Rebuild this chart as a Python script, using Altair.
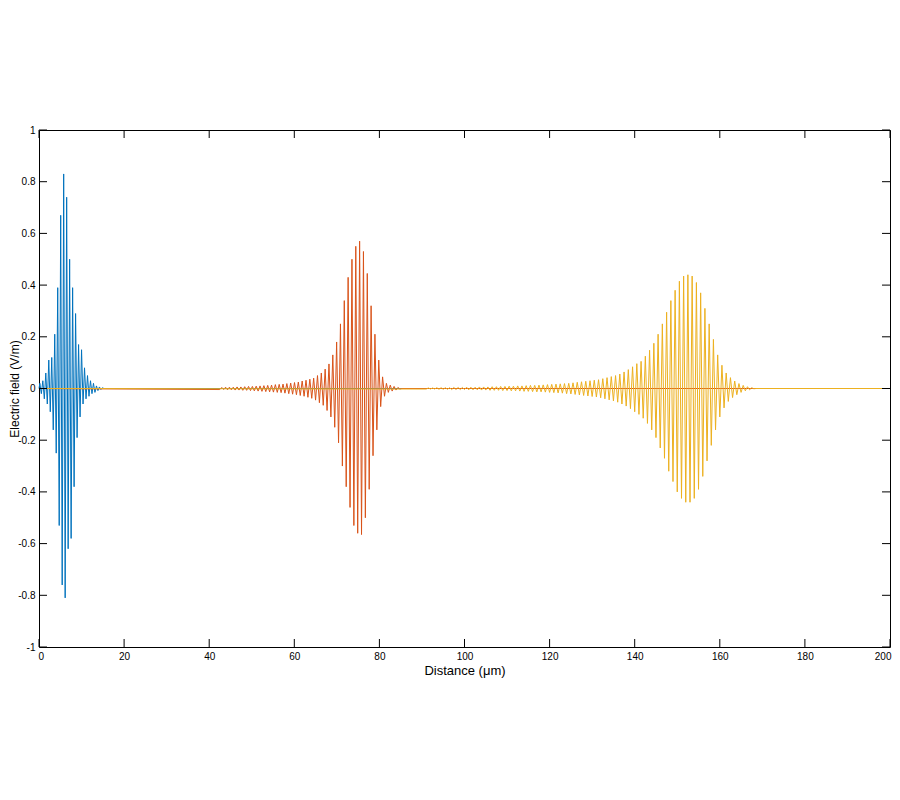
import altair as alt
import pandas as pd

# ---------------- data ----------------
XTICKS = [0, 20, 40, 60, 80, 100, 120, 140, 160, 180, 200]
YTICKS = [-1, -0.8, -0.6, -0.4, -0.2, 0, 0.2, 0.4, 0.6, 0.8, 1]
X_MIN, X_MAX = 0, 200

SERIES = ["pulse1", "pulse2", "pulse3"]
COLORS = ["#0072BD", "#D95319", "#EDB120"]

# pulse 1 (blue): sampled peaks, first sample x and spacing (µm)
BLUE_X0, BLUE_DX = 0.2, 0.35
BLUE_Y = [0.02, -0.02, 0.03, -0.04, 0.06, -0.06, 0.11, -0.09, 0.12, -0.16,
          0.21, -0.25, 0.39, -0.53, 0.67, -0.76, 0.83, -0.81, 0.74, -0.62,
          0.50, -0.58, 0.39, -0.38, 0.29, -0.19, 0.17, -0.11, 0.15, -0.06,
          0.08, -0.04, 0.05, -0.03, 0.03, -0.02, 0.02, -0.015, 0.01, -0.008,
          0.006, -0.004, 0.003]

# pulse 2 (orange)
ORANGE_X0, ORANGE_DX = 42.5, 0.45
ORANGE_Y = [-0.004, 0.004, -0.004, 0.005, -0.005, 0.005, -0.005, 0.005, -0.006, 0.006,
            -0.006, 0.006, -0.007, 0.007, -0.007, 0.008, -0.008, 0.008, -0.009, 0.009,
            -0.010, 0.010, -0.011, 0.011, -0.012, 0.012, -0.013, 0.013, -0.014, 0.015,
            -0.015, 0.016, -0.016, 0.017, -0.018, 0.019, -0.020, 0.021, -0.022, 0.023,
            -0.024, 0.025, -0.027, 0.029, -0.030, 0.032, -0.034, 0.036, -0.038, 0.040,
            -0.045, 0.050, -0.055, 0.060, -0.065, 0.075, -0.085, 0.095, -0.110, 0.130,
            -0.150, 0.180, -0.210, 0.250, -0.300, 0.340, -0.380, 0.430, -0.460, 0.500,
            -0.530, 0.550, -0.560, 0.570, -0.565, 0.530, -0.500, 0.445, -0.390, 0.320,
            -0.260, 0.210, -0.160, 0.110, -0.070, 0.045, -0.030, 0.020, -0.015, 0.013,
            -0.010, 0.008, -0.006, 0.004, -0.002]

# pulse 3 (yellow)
YELLOW_X0, YELLOW_DX = 91.0, 0.5
YELLOW_Y = [-0.002, 0.002, -0.002, 0.002, -0.002, 0.003, -0.003, 0.003, -0.003, 0.003,
            -0.003, 0.003, -0.004, 0.004, -0.004, 0.004, -0.004, 0.004, -0.004, 0.005,
            -0.005, 0.005, -0.005, 0.005, -0.005, 0.006, -0.006, 0.006, -0.006, 0.006,
            -0.007, 0.007, -0.007, 0.007, -0.007, 0.008, -0.008, 0.008, -0.008, 0.009,
            -0.009, 0.009, -0.009, 0.010, -0.010, 0.010, -0.011, 0.011, -0.011, 0.012,
            -0.012, 0.012, -0.013, 0.013, -0.013, 0.014, -0.014, 0.015, -0.015, 0.016,
            -0.016, 0.017, -0.017, 0.018, -0.018, 0.019, -0.020, 0.020, -0.021, 0.022,
            -0.023, 0.024, -0.025, 0.026, -0.027, 0.028, -0.029, 0.030, -0.031, 0.032,
            -0.033, 0.034, -0.036, 0.038, -0.040, 0.042, -0.044, 0.046, -0.048, 0.050,
            -0.053, 0.056, -0.060, 0.064, -0.068, 0.073, -0.078, 0.084, -0.090, 0.096,
            -0.100, 0.105, -0.115, 0.125, -0.135, 0.148, -0.160, 0.175, -0.190, 0.210,
            -0.230, 0.250, -0.270, 0.295, -0.320, 0.340, -0.360, 0.380, -0.400, 0.415,
            -0.425, 0.435, -0.440, 0.440, -0.440, 0.435, -0.425, 0.410, -0.390, 0.370,
            -0.340, 0.310, -0.280, 0.250, -0.220, 0.190, -0.160, 0.130, -0.110, 0.090,
            -0.075, 0.060, -0.050, 0.042, -0.035, 0.029, -0.024, 0.019, -0.015, 0.012,
            -0.009, 0.007, -0.005, 0.003, -0.001]


def build(name, x0, dx, ys):
    xs = [x0 + i * dx for i in range(len(ys))]
    # the trace sits on zero over the rest of the 0-200 window
    xs = [X_MIN] + xs + [xs[-1] + dx, X_MAX]
    vals = [0.0] + list(ys) + [0.0, 0.0]
    return pd.DataFrame({"x": xs, "v": vals, "series": name})


frames = [
    build(SERIES[0], BLUE_X0, BLUE_DX, BLUE_Y),
    build(SERIES[1], ORANGE_X0, ORANGE_DX, ORANGE_Y),
    build(SERIES[2], YELLOW_X0, YELLOW_DX, YELLOW_Y),
]

W, H = 851, 517
TICK = 8
FONT = "Liberation Sans"

xscale = alt.Scale(domain=[X_MIN, X_MAX], nice=False, zero=False)
yscale = alt.Scale(domain=[-1, 1], nice=False, zero=False)

xaxis = alt.Axis(values=XTICKS, ticks=False, domain=False, grid=False,
                 title="Distance (μm)", labelPadding=4, titlePadding=3,
                 labelFlush=True, labelFlushOffset=1, labelOverlap=False,
                 titleFontSize=13, labelExpr="'' + datum.value")
yaxis = alt.Axis(values=YTICKS, ticks=False, domain=False, grid=False,
                 title="Electric field (V/m)", labelPadding=4,
                 labelFlush=False, labelOverlap=False,
                 titleFontSize=12, titleX=-21, titleY=H / 2, titleAngle=270,
                 titleAlign="center", titleBaseline="alphabetic",
                 labelExpr="'' + datum.value")


def X(field):
    return alt.X(field, type="quantitative", scale=xscale, axis=xaxis)


def Y(field):
    return alt.Y(field, type="quantitative", scale=yscale, axis=yaxis)


layers = []
for i, df in enumerate(frames):
    layers.append(
        alt.Chart(df).mark_line(strokeWidth=1, color=COLORS[i], interpolate="linear")
        .encode(x=X("x"), y=Y("v"), order=alt.Order("x:Q"))
    )

ydf = pd.DataFrame({"v": YTICKS})
xdf = pd.DataFrame({"x": XTICKS})
rule = dict(color="black", strokeWidth=1)
layers += [
    alt.Chart(ydf).mark_rule(**rule).encode(y=Y("v"), x=alt.value(0), x2=alt.value(TICK)),
    alt.Chart(ydf).mark_rule(**rule).encode(y=Y("v"), x=alt.value(W - TICK), x2=alt.value(W)),
    alt.Chart(xdf).mark_rule(**rule).encode(x=X("x"), y=alt.value(H), y2=alt.value(H - TICK)),
    alt.Chart(xdf).mark_rule(**rule).encode(x=X("x"), y=alt.value(0), y2=alt.value(TICK)),
]

chart = (
    alt.layer(*layers)
    .properties(width=W, height=H, background="white",
                autosize=alt.AutoSizeParams(type="none"),
                padding={"left": 31, "top": 122, "right": 2, "bottom": 100})
    .configure_view(stroke="black", strokeWidth=1)
    .configure_axis(labelFont=FONT, labelFontSize=10, labelColor="black",
                    titleFont=FONT, titleFontWeight="normal",
                    titleColor="black")
)

chart.save("out.html", embed_options={"renderer": "svg", "actions": False})
